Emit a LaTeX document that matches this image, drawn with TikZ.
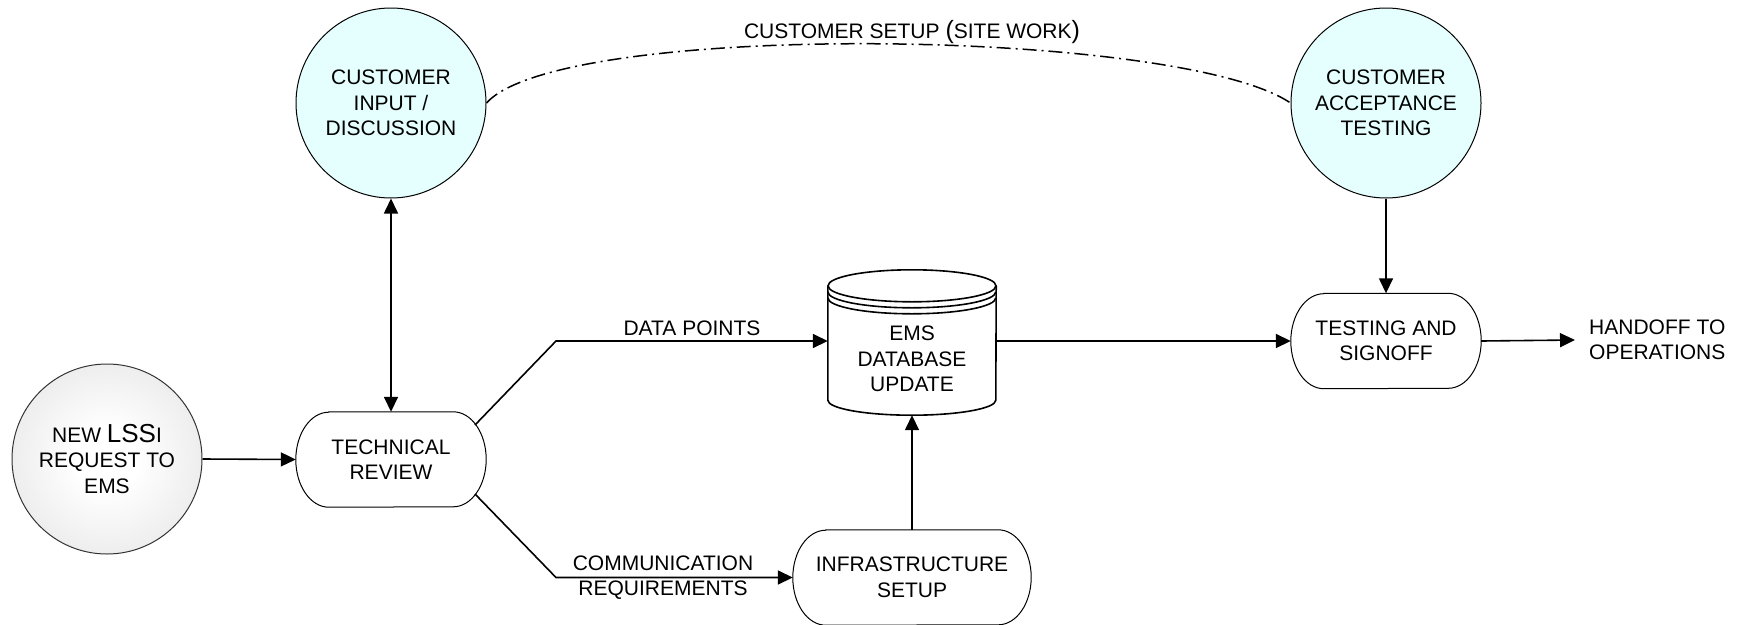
\documentclass[tikz,border=0pt]{standalone}
\usepackage{fontspec}
\setmainfont{Liberation Sans}
\usetikzlibrary{arrows.meta}
\definecolor{cyanfill}{HTML}{E5FFFF}
\definecolor{rimgray}{HTML}{D4D4D4}
\pgfdeclareradialshading{lssishade}{\pgfpoint{0bp}{0bp}}{color(0bp)=(white); color(8bp)=(white); color(50bp)=(rimgray); color(100bp)=(rimgray)}
\newcommand\drawstadium[1]{%
  \draw[line width=1pt] ([xshift=33pt]#1.north west) -- ([xshift=-33pt]#1.north east)
    arc[start angle=90, end angle=-90, x radius=33pt, y radius=47.5pt]
    -- ([xshift=33pt]#1.south west)
    arc[start angle=270, end angle=90, x radius=33pt, y radius=47.5pt] -- cycle;}
\begin{document}
\begin{tikzpicture}[x=1pt,y=1pt,
  txt/.style={font=\fontsize{21}{25.5}\selectfont, align=center, inner sep=0pt},
  circnode/.style={circle, draw, line width=1pt, minimum size=190pt, inner sep=0pt, txt},
  custcirc/.style={circnode, fill=cyanfill},
  startcirc/.style={circnode, draw=black!80, shading=lssishade},
  stadnode/.style={rectangle, minimum height=95pt, inner sep=0pt, txt},
  conn/.style={line width=1.6pt, -{Triangle[length=15pt,width=14pt]}},
  dbline/.style={line width=1.6pt},
  sitework/.style={line width=1.5pt, dash pattern=on 14pt off 5pt on 2pt off 5pt}
]
\useasboundingbox (0,0) rectangle (1744,-624);

% nodes
\node[startcirc] (lssi) at (107,-459) {NEW {\fontsize{26}{25.5}\selectfont LSS}I\\REQUEST TO\\EMS};
\node[stadnode, minimum width=190pt] (tr) at (391,-459.5) {TECHNICAL\\REVIEW};
\node[custcirc] (ci) at (391,-103) {CUSTOMER\\INPUT /\\DISCUSSION};
\node[custcirc] (ca) at (1386,-103) {CUSTOMER\\ACCEPTANCE\\TESTING};
\node[stadnode, minimum width=238pt] (infra) at (912,-577.5) {INFRASTRUCTURE\\SETUP};
\node[stadnode, minimum width=190pt] (ts) at (1386,-341) {TESTING AND\\SIGNOFF};
\node[rectangle, minimum width=168pt, minimum height=145pt, inner sep=0pt] (db) at (912,-342.5) {};
\node[txt] (dbtext) at (912,-359) {EMS\\DATABASE\\UPDATE};
\node[txt, align=left, anchor=west] (handoff) at (1589,-340) {HANDOFF TO\\OPERATIONS};

% outlines of the rounded process boxes
\drawstadium{tr}
\drawstadium{infra}
\drawstadium{ts}

% database cylinder
\draw[dbline] ([yshift=-16pt]db.north) ellipse [x radius=84pt, y radius=16pt];
\draw[dbline] ([yshift=-22pt]db.north west) arc[start angle=180, end angle=360, x radius=84pt, y radius=16pt];
\draw[dbline] ([yshift=-28pt]db.north west) arc[start angle=180, end angle=360, x radius=84pt, y radius=16pt];
\draw[dbline] ([yshift=-16pt]db.north west) -- ([yshift=15pt]db.south west)
  arc[start angle=180, end angle=360, x radius=84pt, y radius=15pt] -- ([yshift=-16pt]db.north east);

% connectors
\coordinate (dpk) at (556,-341);
\coordinate (crk) at (556,-577.5);
\draw[conn] (lssi.east) -- (tr.west);
\draw[line width=1.6pt, {Triangle[length=15pt,width=14pt]}-{Triangle[length=15pt,width=14pt]}] (ci.south) -- (tr.north);
\draw[conn] ([xshift=84pt,yshift=34.5pt]tr.center) -- (dpk) -- (dpk -| db.west);
\draw[conn] ([xshift=84pt,yshift=-34.5pt]tr.center) -- (crk) -- (infra.west);
\draw[conn] (infra.north) -- (db.south);
\draw[line width=1.6pt, -{Triangle[length=15pt,width=14pt]}] (ts.west -| db.east) -- (ts.west);
\draw[conn] (ca.south) -- (ts.north);
\draw[conn] (ts.east) -- ([xshift=-14pt]handoff.west);
\draw[sitework] (ci.east) .. controls +(74,83) and +(-110,75) .. (ca.west);

% connector labels
\node[txt] (dplabel) at (692,-328) {DATA POINTS};
\node[txt] (crlabel) at (663,-577.5) {COMMUNICATION\\REQUIREMENTS};
\node[txt] (swlabel) at (912,-32) {CUSTOMER SETUP {\fontsize{25}{25}\selectfont(}SITE WORK{\fontsize{25}{25}\selectfont)}};
\end{tikzpicture}
\end{document}
